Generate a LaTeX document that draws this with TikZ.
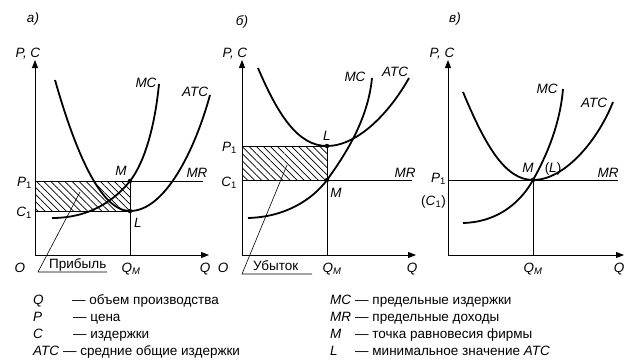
\documentclass[tikz,border=0pt]{standalone}
\usepackage{fontspec}
\setmainfont{Liberation Sans}
\usetikzlibrary{arrows.meta,patterns.meta}
\tikzset{
  mkaxis/.style={-{Triangle[length=8pt,width=6pt]}, line width=0.9pt},
  mkcurve/.style={line width=1.8pt},
  mkline/.style={line width=0.8pt},
  mkhatch/.style={pattern={Lines[angle=-45,distance=5pt,line width=0.7pt]}},
  mkdot/.style={circle, fill, inner sep=0pt, minimum size=4.5pt},
  mklabel/.style={font=\fontsize{13.5}{15}\selectfont\itshape, inner sep=0pt, anchor=base},
  mktext/.style={font=\fontsize{13.5}{15}\selectfont, inner sep=0pt, anchor=base},
  mklegend/.style={font=\fontsize{13.5}{15}\selectfont, inner sep=0pt, anchor=base west},
}
\newcommand{\onesub}[1]{#1\textsubscript{\upshape 1}}

\begin{document}
\begin{tikzpicture}[x=1pt,y=-1pt]
  \useasboundingbox (0,0) rectangle (641,364);

  % a) profit
  \coordinate (aO) at (35,255);
  \coordinate (aY) at (35,60);
  \coordinate (aX) at (209,255);
  \coordinate (aP) at (35,181);
  \coordinate (aC) at (35,211);
  \coordinate (aM) at (130,181);
  \coordinate (aL) at (130,211);
  \coordinate (aQ) at (130,255);
  \coordinate (aMR) at (203,181);
  \coordinate (ahatch) at (80,192);
  \coordinate (aknee) at (38,272);
  \coordinate (aend) at (107,272);

  \fill[mkhatch] (aP) rectangle (aL);
  \draw[mkline] (aP) -- (aMR);
  \draw[mkline] (aC) -- (aL);
  \draw[mkline] (aQ) -- (aM);
  \draw[mkaxis] (aO) -- (aY);
  \draw[mkaxis] (aO) -- (aX);
  \draw[mkcurve] (52,218) .. controls (90,218) and (115,200) .. (aM)
    .. controls (145,162) and (155,125) .. (159,84);
  \draw[mkcurve] (55,80) .. controls (75,150) and (100,211) .. (aL)
    .. controls (165,211) and (195,150) .. (210,95);
  \node[mkdot] (aMdot) at (aM) {};
  \node[mkdot] (aLdot) at (aL) {};

  \node[mklabel] (atitle) at (33,22) {а)};
  \node[mklabel] (aPC) at (28,57) {P, C};
  \node[mklabel, anchor=base east] (aP1) at (32,186) {\onesub{P}};
  \node[mklabel, anchor=base east] (aC1) at (32,216) {\onesub{C}};
  \node[mklabel] (aMlab) at (121,175) {M};
  \node[mklabel] (aLlab) at (138,227) {L};
  \node[mklabel] (aMRlab) at (197,177) {MR};
  \node[mklabel] (aMClab) at (146,87) {MC};
  \node[mklabel] (aATClab) at (195,96) {ATC};
  \node[mklabel] (aOlab) at (20,272) {O};
  \node[mklabel] (aQMlab) at (131,272) {Q\textsubscript{M}};
  \node[mklabel] (aQlab) at (205,272) {Q};
  \node[mktext, anchor=base west] (profit) at (49,268) {Прибыль};
  \draw[mkline, line width=0.6pt] (ahatch) -- (aknee) -- (aend);

  % b) loss
  \coordinate (bO) at (242,255);
  \coordinate (bY) at (242,60);
  \coordinate (bX) at (416,255);
  \coordinate (bP) at (242,146);
  \coordinate (bC) at (242,180);
  \coordinate (bL) at (327,146);
  \coordinate (bM) at (327,180);
  \coordinate (bQ) at (327,255);
  \coordinate (bMR) at (412,180);
  \coordinate (bhatch) at (287,165);
  \coordinate (bknee) at (242,274);
  \coordinate (bend) at (312,274);

  \fill[mkhatch] (bP) rectangle (bM);
  \draw[mkline] (bP) -- (bL);
  \draw[mkline] (bC) -- (bMR);
  \draw[mkline] (bQ) -- (bL);
  \draw[mkaxis] (bO) -- (bY);
  \draw[mkaxis] (bO) -- (bX);
  \draw[mkcurve] (248,218) .. controls (285,217) and (312,200) .. (bM)
    .. controls (345,155) and (368,120) .. (372,78);
  \draw[mkcurve] (258,68) .. controls (278,115) and (298,146) .. (bL)
    .. controls (358,146) and (390,112) .. (409,78);
  \node[mkdot] (bMdot) at (bM) {};
  \node[mkdot] (bLdot) at (bL) {};

  \node[mklabel] (btitle) at (242,25) {б)};
  \node[mklabel] (bPC) at (235,57) {P, C};
  \node[mklabel, anchor=base east] (bP1) at (237,151) {\onesub{P}};
  \node[mklabel, anchor=base east] (bC1) at (237,186) {\onesub{C}};
  \node[mklabel] (bLlab) at (327,140) {L};
  \node[mklabel] (bMlab) at (336,197) {M};
  \node[mklabel] (bMRlab) at (405,177) {MR};
  \node[mklabel] (bMClab) at (355,81) {MC};
  \node[mklabel] (bATClab) at (395,76) {ATC};
  \node[mklabel] (bOlab) at (223,272) {O};
  \node[mklabel] (bQMlab) at (332,272) {Q\textsubscript{M}};
  \node[mklabel] (bQlab) at (412,272) {Q};
  \node[mktext, anchor=base west] (loss) at (253,270) {Убыток};
  \draw[mkline, line width=0.6pt] (bhatch) -- (bknee) -- (bend);

  % c) break-even
  \coordinate (cO) at (448,255);
  \coordinate (cY) at (448,60);
  \coordinate (cX) at (624,255);
  \coordinate (cP) at (448,180);
  \coordinate (cM) at (533,180);
  \coordinate (cQ) at (533,255);
  \coordinate (cMR) at (618,180);

  \draw[mkline] (cP) -- (cMR);
  \draw[mkline] (cQ) -- (cM);
  \draw[mkaxis] (cO) -- (cY);
  \draw[mkaxis] (cO) -- (cX);
  \draw[mkcurve] (463,223) .. controls (500,222) and (522,200) .. (cM)
    .. controls (546,157) and (560,125) .. (563,89);
  \draw[mkcurve] (463,92) .. controls (485,145) and (505,180) .. (cM)
    .. controls (565,180) and (598,140) .. (613,102);
  \node[mkdot] (cMdot) at (cM) {};

  \node[mklabel] (ctitle) at (455,22) {в)};
  \node[mklabel] (cPC) at (442,57) {P, C};
  \node[mklabel, anchor=base east] (cP1) at (446,182) {\onesub{P}};
  \node[mktext, anchor=base east] (cC1) at (446,205) {(\textit{C}\textsubscript{1})};
  \node[mklabel] (cMlab) at (528,172) {M};
  \node[mktext] (cLlab) at (553,172) {(\textit{L})};
  \node[mklabel] (cMRlab) at (608,177) {MR};
  \node[mklabel] (cMClab) at (547,93) {MC};
  \node[mklabel] (cATClab) at (594,107) {ATC};
  \node[mklabel] (cQMlab) at (533,272) {Q\textsubscript{M}};
  \node[mklabel] (cQlab) at (619,272) {Q};

  % legend
  \node[mklegend, font=\fontsize{13.5}{15}\selectfont\itshape] (lgQ) at (33,304) {Q};
  \node[mklegend] (lgQt) at (72,304) {— объем производства};
  \node[mklegend, font=\fontsize{13.5}{15}\selectfont\itshape] (lgP) at (33,321) {P};
  \node[mklegend] (lgPt) at (73,321) {— цена};
  \node[mklegend, font=\fontsize{13.5}{15}\selectfont\itshape] (lgC) at (33,338) {C};
  \node[mklegend] (lgCt) at (73,338) {— издержки};
  \node[mklegend, font=\fontsize{13.5}{15}\selectfont\itshape] (lgATC) at (33,355) {ATC};
  \node[mklegend] (lgATCt) at (63,355) {— средние общие издержки};
  \node[mklegend, font=\fontsize{13.5}{15}\selectfont\itshape] (lgMC) at (330,304) {MC};
  \node[mklegend] (lgMCt) at (355,304) {— предельные издержки};
  \node[mklegend, font=\fontsize{13.5}{15}\selectfont\itshape] (lgMR) at (330,321) {MR};
  \node[mklegend] (lgMRt) at (355,321) {— предельные доходы};
  \node[mklegend, font=\fontsize{13.5}{15}\selectfont\itshape] (lgM) at (330,338) {M};
  \node[mklegend] (lgMt) at (355,338) {— точка равновесия фирмы};
  \node[mklegend, font=\fontsize{13.5}{15}\selectfont\itshape] (lgL) at (330,355) {L};
  \node[mklegend] (lgLt) at (355,355) {— минимальное значение \textit{ATC}};
\end{tikzpicture}
\end{document}
